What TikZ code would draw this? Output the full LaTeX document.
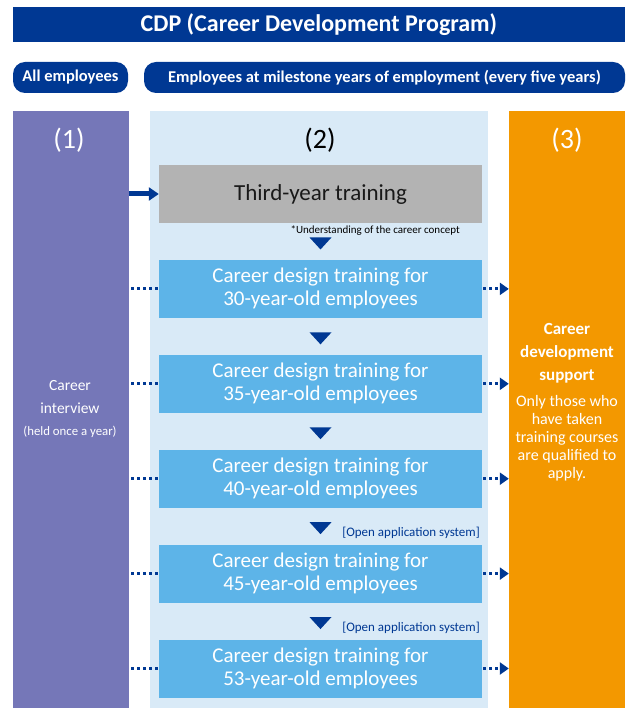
\documentclass[tikz,border=0pt]{standalone}
\usepackage{fontspec}
\setmainfont{Carlito}
\usetikzlibrary{arrows.meta,positioning,calc}
\definecolor{cdpblue}{HTML}{003893}
\definecolor{cdppurple}{HTML}{7577B8}
\definecolor{cdppale}{HTML}{D9EAF7}
\definecolor{cdpsky}{HTML}{5DB4E8}
\definecolor{cdpgray}{HTML}{B3B3B3}
\definecolor{cdporange}{HTML}{F39800}

\begin{document}
\begin{tikzpicture}[x=1pt, y=-1pt, node distance=36.5pt]
		\tikzstyle{pill}=[rectangle, rounded corners=12pt, fill=cdpblue, text=white, minimum height=31pt, inner sep=0pt, font=\bfseries\fontsize{16.5}{18}\selectfont]
		\tikzstyle{column}=[rectangle, minimum height=597pt, inner sep=0pt]
		\tikzstyle{course}=[rectangle, fill=cdpsky, text=white, minimum width=323pt, minimum height=58pt, inner sep=0pt, align=center, font=\fontsize{21}{23}\selectfont]
		\tikzstyle{dots}=[cdpblue, line width=3pt, dash pattern=on 3pt off 3pt]
		\tikzstyle{connect}=[dots, -{Triangle[width=12pt,length=9pt]}]
		\tikzstyle{note}=[anchor=east, inner sep=0pt, font=\fontsize{11}{13}\selectfont]
		\useasboundingbox (0,0) rectangle (628,708);
		% heading and target groups
		\node[rectangle, fill=cdpblue, text=white, minimum width=612pt, minimum height=35pt, inner sep=0pt, font=\bfseries\fontsize{24}{26}\selectfont] (title) at (319,24.5) {CDP (Career Development Program)};
		\node[pill, minimum width=115pt] (all) at (70.5,77.5) {All employees};
		\node[pill, minimum width=481pt] (milestone) at (384.5,77.5) {Employees at milestone years of employment (every five years)};
		% three columns
		\node[column, fill=cdppurple, minimum width=116pt] (col1) at (71,409.5) {};
		\node[column, fill=cdppale, minimum width=338pt] (col2) at (319,409.5) {};
		\node[column, fill=cdporange, minimum width=116pt] (col3) at (567,409.5) {};
		\node[text=white, font=\fontsize{28}{30}\selectfont] (num1) at (69,140) {(1)};
		\node[font=\fontsize{28}{30}\selectfont] (num2) at (320,140) {(2)};
		\node[text=white, font=\fontsize{28}{30}\selectfont] (num3) at (567,140) {(3)};
		\node[text=white, align=center, font=\fontsize{15.5}{23}\selectfont] (interview) at (70,397) {Career\\interview};
		\node[text=white, font=\fontsize{12.8}{14}\selectfont] (held) at (70,432) {(held once a year)};
		\node[text=white, align=center, font=\bfseries\fontsize{17}{23}\selectfont] (support) at (567,353) {Career\\development\\support};
		\node[text=white, align=center, font=\fontsize{16}{18}\selectfont] (qualified) at (567,438) {Only those who\\have taken\\training courses\\are qualified to\\apply.};
		% training courses
		\node[course, fill=cdpgray, text=black!90, font=\fontsize{23}{25}\selectfont] (third) at (320.5,194) {Third-year training};
		\node[course] (b30) [below=of third] {Career design training for\\30-year-old employees};
		\node[course] (b35) [below=of b30] {Career design training for\\35-year-old employees};
		\node[course] (b40) [below=of b35] {Career design training for\\40-year-old employees};
		\node[course] (b45) [below=of b40] {Career design training for\\45-year-old employees};
		\node[course] (b53) [below=of b45] {Career design training for\\53-year-old employees};
		\node[note] (concept) at (460,231) {*Understanding of the career concept};
		\node[note, text=cdpblue, font=\fontsize{13}{15}\selectfont] (open1) at (480,533) {[Open application system]};
		\node[note, text=cdpblue, font=\fontsize{13}{15}\selectfont] (open2) at (480,628) {[Open application system]};
		% down triangles
		\foreach \a/\b in {third/b30, b30/b35, b35/b40, b40/b45, b45/b53}
			\fill[cdpblue] ($(\a.south)!0.5!(\b.north)+(0,2)$) +(-11,-6) -- +(11,-6) -- +(0,6) -- cycle;
		% links
		\draw[cdpblue, line width=5pt, -{Triangle[width=13pt,length=10pt]}] (col1.east |- third.west) -- (third.west);
		\foreach \b in {b30, b35, b40, b45, b53} {
			\draw[dots] ([xshift=2pt]col1.east |- \b.west) -- (\b.west);
			\draw[connect] ([xshift=1pt]\b.east) -- (col3.west |- \b.east);
		}
	\end{tikzpicture}
\end{document}
